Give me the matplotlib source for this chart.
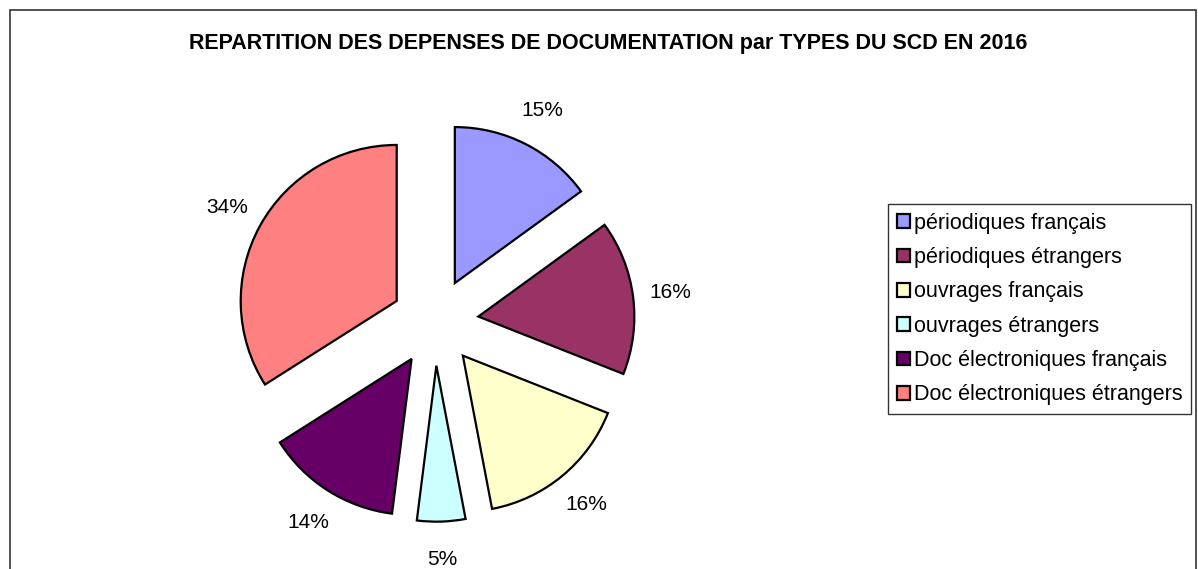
import matplotlib.pyplot as plt
from matplotlib.patches import Rectangle

labels = ['périodiques français', 'périodiques étrangers', 'ouvrages français',
          'ouvrages étrangers', 'Doc électroniques français', 'Doc électroniques étrangers']
values = [15, 16, 16, 5, 14, 34]
colors = ['#9999FF', '#993366', '#FFFFCC', '#CCFFFF', '#660066', '#FF8080']

W, H = 1198, 569
cx, cy, r = 435, 322, 156

plt.rcParams['font.family'] = ['Liberation Sans', 'DejaVu Sans']
fig = plt.figure(figsize=(W / 100, H / 100), dpi=100)
ax = fig.add_axes([0, 0, 1, 1])

wedges, texts, autotexts = ax.pie(
    values, colors=colors, startangle=90, counterclock=False,
    explode=[0.28] * len(values), autopct='%1.0f%%', pctdistance=1.24,
    wedgeprops=dict(edgecolor='black', linewidth=1.6),
    textprops=dict(fontsize=15))

ax.set_xlim(-cx / r, (W - cx) / r)
ax.set_ylim(-(H - cy) / r, cy / r)
ax.set_aspect('auto')
ax.axis('off')

fig.text(608 / W, 1 - 44 / H, 'REPARTITION DES DEPENSES DE DOCUMENTATION par TYPES DU SCD EN 2016',
         ha='center', va='center', fontsize=15.5, fontweight='bold')

leg = fig.legend(wedges, labels, loc='upper left', bbox_to_anchor=(888 / W, 1 - 204 / H),
                 fontsize=15.5, frameon=True, fancybox=False, edgecolor='black',
                 handlelength=0.6, handleheight=0.6, handletextpad=0.2,
                 borderaxespad=0, borderpad=0.4, labelspacing=0.62)
leg.get_frame().set_linewidth(1.0)

fig.patches.append(Rectangle((10 / W, -0.1), (1186) / W, 1.1 - 10 / H,
                             transform=fig.transFigure, fill=False,
                             edgecolor='#333333', linewidth=1.2))

fig.savefig('out.png', dpi=100)
